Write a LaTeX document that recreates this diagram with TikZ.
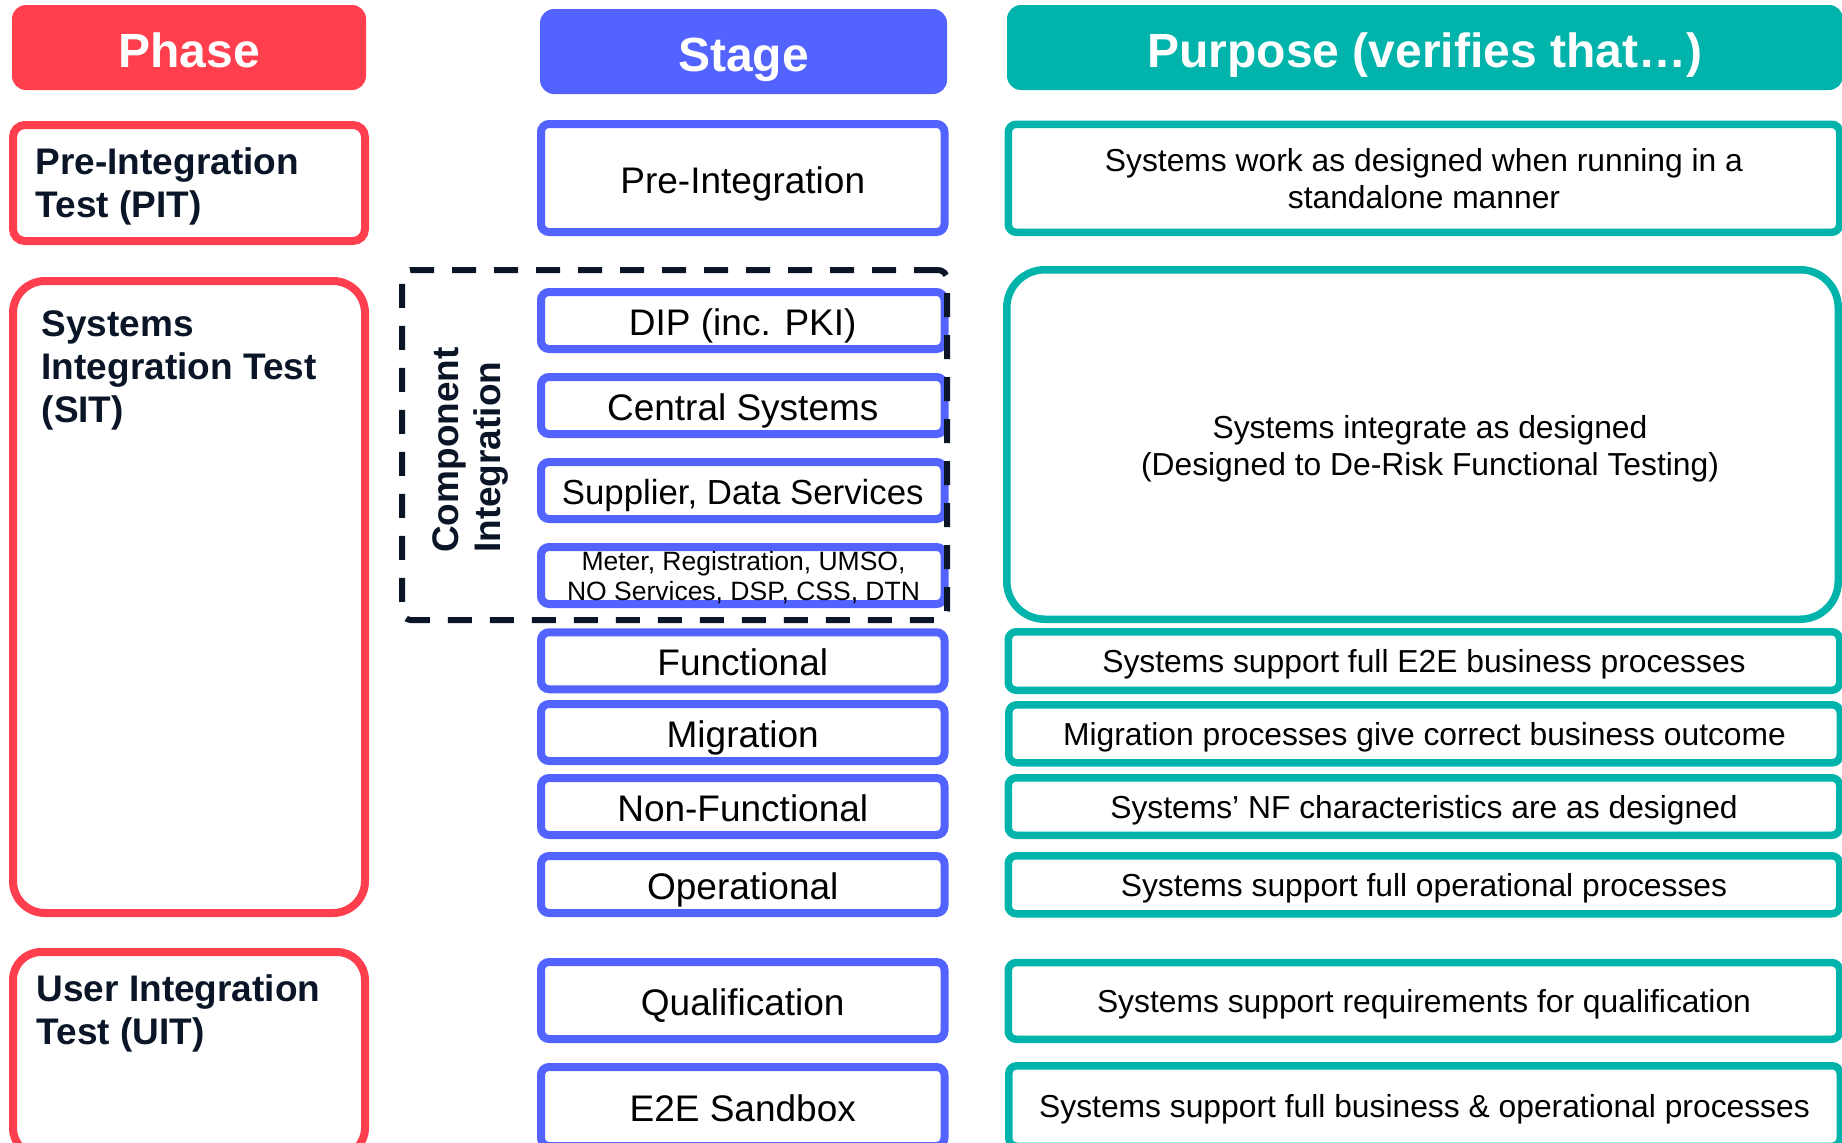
\documentclass[tikz,border=0pt]{standalone}
\usepackage{fontspec}
\setmainfont{Liberation Sans}
\definecolor{phasered}{HTML}{FF3F4E}
\definecolor{stageblue}{HTML}{5363FF}
\definecolor{purposeteal}{HTML}{00B4AB}
\definecolor{navy}{HTML}{0A1628}
\tikzset{
    col head/.style = {
        text = white,
        font = \fontsize{48}{56}\selectfont\bfseries,
        rounded corners = 14pt,
        minimum height = 85pt,
        text height = 40pt,
        text depth = 0pt,
        },
    phase box/.style = {
        draw = phasered,
        line width = 8pt,
        minimum width = 352pt,
        },
    phase text/.style = {
        anchor = north west,
        align = left,
        inner sep = 0pt,
        text = navy,
        font = \fontsize{37}{43}\selectfont\bfseries,
        },
    stage frame/.style = {
        draw = stageblue,
        line width = 8pt,
        rounded corners = 8pt,
        minimum width = 403.5pt,
        minimum height = 57pt,
        align = center,
        inner sep = 0pt,
        font = \fontsize{37}{43}\selectfont,
        },
    stage box/.style = {
        stage frame,
        text height = 30pt,
        text depth = 0pt,
        },
    purpose frame/.style = {
        draw = purposeteal,
        line width = 7.5pt,
        rounded corners = 8pt,
        minimum width = 831.5pt,
        minimum height = 58pt,
        align = center,
        inner sep = 0pt,
        font = \fontsize{31.8}{37}\selectfont,
        },
    purpose box/.style = {
        purpose frame,
        text height = 23pt,
        text depth = 0pt,
        },
    group frame/.style = {
        draw = navy,
        line width = 6pt,
        dash pattern = on 24pt off 18pt,
        rounded corners = 9pt,
        },
}
\begin{document}
\begin{tikzpicture}[x=1pt, y=-1pt]
    \useasboundingbox (0,0) rectangle (1842,1143);

    % column heads
    \node[col head, fill = phasered, minimum width = 354pt] (phase-h) at (189, 47.5) {Phase};
    \node[col head, fill = stageblue, minimum width = 407pt] (stage-h) at (743.5, 51.5) {Stage};
    \node[col head, fill = purposeteal, minimum width = 836pt] (purpose-h) at (1425, 47.5) {Purpose (verifies that…)};

    % phases
    \node[phase box, rounded corners = 12pt, minimum height = 116pt] (pit) at (189, 183) {};
    \node[phase box, rounded corners = 32pt, minimum height = 632pt] (sit) at (189, 597) {};
    \node[phase box, rounded corners = 28pt, minimum height = 204pt] (uit) at (189, 1054) {};
    \node[phase text] (pit-t) at (35.5, 147) {Pre-Integration\\Test (PIT)};
    \node[phase text] (sit-t) at (41.5, 310) {Systems\\Integration Test\\(SIT)};
    \node[phase text] (uit-t) at (36.5, 974.5) {User Integration\\Test (UIT)};

    % stages
    \node[stage box, minimum height = 108pt] (s-pre) at (742.75, 178) {Pre-Integration};
    \node[stage box] (s-dip) at (742.75, 320.5) {DIP (inc. PKI)};
    \node[stage box] (s-central) at (742.75, 405.5) {Central Systems};
    \node[stage box, font = \fontsize{34.8}{40}\selectfont, text height = 28.5pt] (s-supplier) at (742.75, 490.5) {Supplier, Data Services};
    \node[stage frame] (s-meter) at (742.75, 575.5) {};
    \node[align = center, inner sep = 0pt, font = \fontsize{26.5}{30}\selectfont] (s-meter-t) at (743.5, 577.5) {Meter, Registration, UMSO,\\NO Services, DSP, CSS, DTN};
    \node[stage box] (s-func) at (742.75, 660.75) {Functional};
    \node[stage box] (s-mig) at (742.75, 732.5) {Migration};
    \node[stage box] (s-nf) at (742.75, 806.5) {Non-Functional};
    \node[stage box] (s-op) at (742.75, 884.5) {Operational};
    \node[stage box, minimum height = 77pt] (s-qual) at (742.75, 1000.5) {Qualification};
    \node[stage box, minimum height = 79pt] (s-sand) at (742.75, 1106.5) {E2E Sandbox};

    % component integration group
    \node[group frame, minimum width = 545pt, minimum height = 350pt] (comp) at (674.5, 445) {};
    \node[rotate = 90, anchor = north west, align = left, inner sep = 0pt, text = navy,
        font = \fontsize{37}{42.5}\selectfont\bfseries] (comp-t) at (432, 553) {Component\\Integration};

    % purposes
    \node[purpose frame, minimum height = 108pt] (p-pre) at (1424, 178.3) {Systems work as designed when running in a\\standalone manner};
    \node[purpose frame, rounded corners = 38pt, minimum height = 349.5pt] (p-sit) at (1422.5, 444.5) {};
    \node[align = center, inner sep = 0pt, font = \fontsize{31.8}{37}\selectfont] (p-sit-t) at (1430, 448.5) {Systems integrate as designed\\(Designed to De-Risk Functional Testing)};
    \node[purpose box, minimum height = 58.5pt] (p-func) at (1424, 661) {Systems support full E2E business processes};
    \node[purpose box] (p-mig) at (1424.5, 733.8) {Migration processes give correct business outcome};
    \node[purpose box, minimum height = 57.5pt] (p-nf) at (1424, 806.5) {Systems’ NF characteristics are as designed};
    \node[purpose box] (p-op) at (1424, 884.75) {Systems support full operational processes};
    \node[purpose box, minimum height = 76.7pt] (p-qual) at (1424, 1000.9) {Systems support requirements for qualification};
    \node[purpose box, minimum height = 80.5pt] (p-sand) at (1424.5, 1106) {Systems support full business \& operational processes};
\end{tikzpicture}
\end{document}
